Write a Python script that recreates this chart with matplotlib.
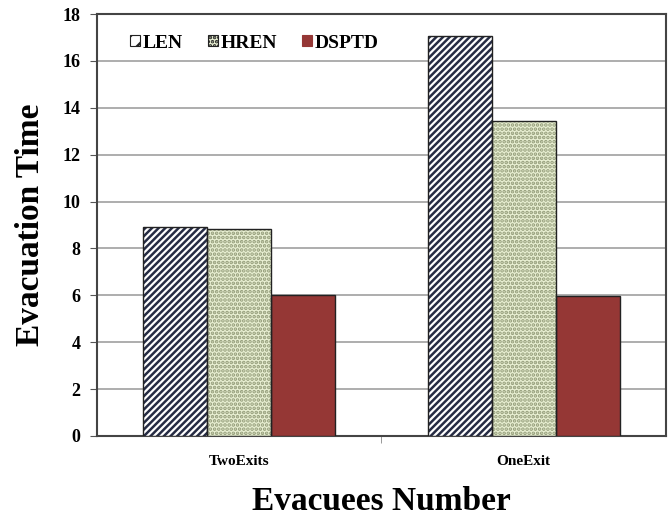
import numpy as np
import matplotlib
matplotlib.use("Agg")
import matplotlib.pyplot as plt
from matplotlib.patches import Patch

categories = ["TwoExits", "OneExit"]
series = ["LEN", "HREN", "DSPTD"]
len_vals = [8.92, 17.05]
hren_vals = [8.85, 13.45]
dsptd_vals = [6.0, 5.97]

plt.rcParams['font.family'] = ['Liberation Serif', 'DejaVu Serif']
plt.rcParams['font.weight'] = 'bold'
plt.rcParams['hatch.linewidth'] = 1.8

fig = plt.figure(figsize=(6.68, 5.17), dpi=100)
ax = fig.add_axes([0.1452, 0.1567, 0.8518, 0.8162])

x = np.arange(len(categories))
w = 0.225

faces = ['white', '#e8efd2', '#953735']
hatches = ['/////', '....', None]
hcolors = ['#262c44', '#929b78', '#953735']
vals = [len_vals, hren_vals, dsptd_vals]

for i in range(3):
    pos = x + (i - 1) * w
    ax.bar(pos, vals[i], w, color=faces[i], hatch=hatches[i], edgecolor=hcolors[i],
           linewidth=0, zorder=3)
    ax.bar(pos, vals[i], w, fill=False, edgecolor='#222222', linewidth=1.0, zorder=4)

ax.set_ylim(0, 18)
ax.set_xlim(-0.5, 1.5)
ax.set_yticks(range(0, 19, 2))
ax.yaxis.grid(True, color='#a0a0a0', linewidth=1.2, zorder=0)
ax.set_axisbelow(True)

ax.set_xticks(x)
ax.set_xticklabels(categories, fontsize=11, fontweight='bold')
ax.tick_params(axis='x', which='major', length=0, pad=14)
ax.set_xticks([0.5], minor=True)
ax.tick_params(axis='x', which='minor', length=5, color='#888888')
ax.tick_params(axis='y', labelsize=13, length=5, color='#555555', pad=7)
for lab in ax.get_yticklabels():
    lab.set_fontweight('bold')

for s in ax.spines.values():
    s.set_color('#444444')
    s.set_linewidth(1.5)

ax.set_ylabel("Evacuation Time", fontsize=24, fontweight='bold', labelpad=12)
ax.set_xlabel("Evacuees Number", fontsize=24, fontweight='bold', labelpad=13)

handles = [Patch(facecolor=faces[i], hatch=('//' if i == 0 else hatches[i]),
                 edgecolor='#222222' if i < 2 else '#953735', linewidth=0.8)
           for i in range(3)]
ax.legend(handles, series, loc='center left', bbox_to_anchor=(0.058, 0.931), ncol=3,
          frameon=False, prop={'size': 14, 'weight': 'bold'}, borderpad=0, borderaxespad=0,
          handlelength=0.5, handleheight=0.5, handletextpad=0.15, columnspacing=1.3)

fig.savefig("out.png", dpi=100)
